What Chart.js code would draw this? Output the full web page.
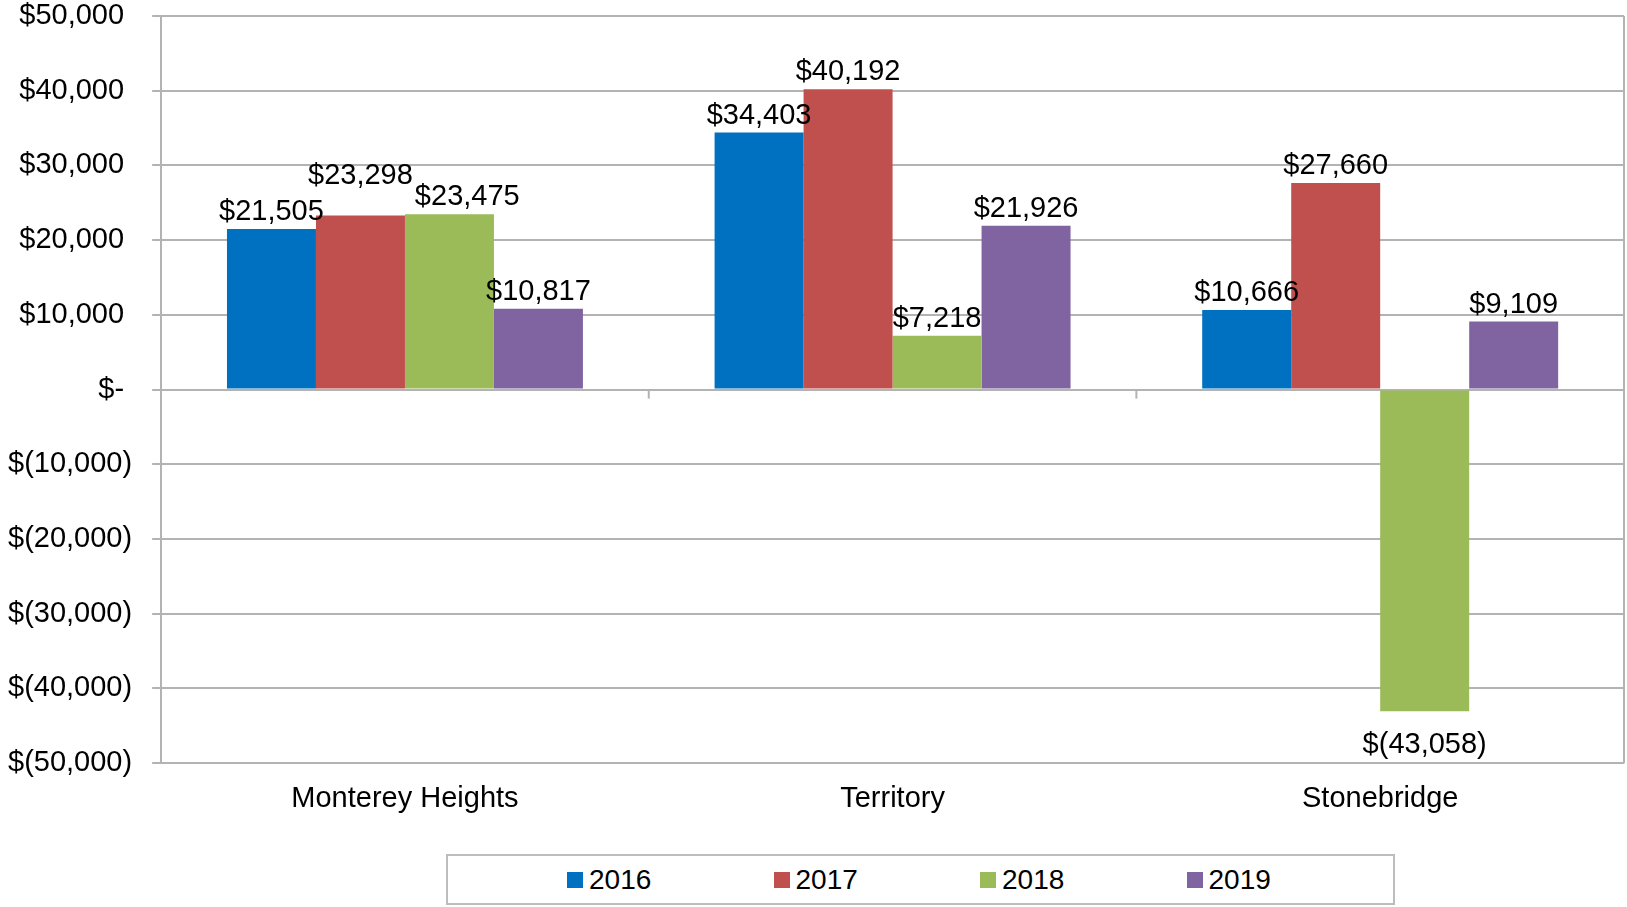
<!DOCTYPE html>
<html>
<head>
<meta charset="utf-8">
<script src="https://cdn.jsdelivr.net/npm/chart.js@4.4.1/dist/chart.umd.min.js"></script>
<style>
  body { margin: 0; background: #fff; font-family: "Liberation Sans", Arial, sans-serif; }
  #wrap { position: relative; width: 1627px; height: 907px; }
  #legend {
    position: absolute; left: 446px; top: 854px; width: 949px; height: 51px;
    box-sizing: border-box; border: 2px solid #BDBDBD; background: #fff;
    display: flex; align-items: center; padding-left: 119px;
  }
  .item { width: 209px; display: flex; align-items: center; font-size: 28px; color: #000; }
  .item span.box { width: 16px; height: 16px; margin-right: 6px; display: inline-block; }
</style>
</head>
<body>
<div id="wrap">
  <canvas id="chart1"></canvas>
  <div id="legend"></div>
</div>
<script>
const categories = ["Monterey Heights", "Territory", "Stonebridge"];
const years = ["2016", "2017", "2018", "2019"];
const values2016 = [21505, 34403, 10666];
const values2017 = [23298, 40192, 27660];
const values2018 = [23475, 7218, -43058];
const values2019 = [10817, 21926, 9109];
const colors = ["#0070C0", "#C0504D", "#9BBB59", "#8064A2"];

const seriesValues = [values2016, values2017, values2018, values2019];
const FONT = "'Liberation Sans', Arial, sans-serif";

function money(v, pad) {
  if (v === 0) return "$-" + pad;
  const s = Math.abs(v).toLocaleString("en-US");
  return v < 0 ? "$(" + s + ")" : "$" + s + pad;
}

// legend in html, boxes + year text
const legendEl = document.getElementById("legend");
years.forEach((y, i) => {
  const d = document.createElement("div");
  d.className = "item";
  d.innerHTML = '<span class="box" style="background:' + colors[i] + '"></span>' + y;
  legendEl.appendChild(d);
});

const extras = {
  id: "extras",
  beforeDatasetsDraw(chart) {
    const ctx = chart.ctx;
    const area = chart.chartArea;
    const x = chart.scales.x;
    const y = chart.scales.y;
    const y0 = y.getPixelForValue(0);
    ctx.save();
    ctx.strokeStyle = "#B3B3B3";
    ctx.lineWidth = 2;
    // right border of plot area
    ctx.beginPath();
    ctx.moveTo(area.right, area.top);
    ctx.lineTo(area.right, area.bottom);
    ctx.stroke();
    // category tick marks on the zero line
    for (let i = 1; i < categories.length; i++) {
      const px = (x.getPixelForValue(i - 1) + x.getPixelForValue(i)) / 2;
      ctx.beginPath();
      ctx.moveTo(px, y0);
      ctx.lineTo(px, y0 + 9);
      ctx.stroke();
    }
    ctx.restore();
  },
  afterDatasetsDraw(chart) {
    const ctx = chart.ctx;
    ctx.save();
    ctx.font = "29px " + FONT;
    ctx.fillStyle = "#000";
    ctx.textAlign = "center";
    ctx.textBaseline = "alphabetic";
    for (let c = 0; c < categories.length; c++) {
      const placed = [];
      chart.data.datasets.forEach((ds, di) => {
        const el = chart.getDatasetMeta(di).data[c];
        const v = ds.data[c];
        const txt = money(v, "");
        const w = ctx.measureText(txt).width;
        let cx = el.x;
        let base = v < 0 ? el.y + 42 : el.y - 9;
        // keep labels from sitting on top of each other
        if (v >= 0) {
          placed.forEach(p => {
            const hOver = Math.min(cx + w / 2, p.x + p.w / 2) - Math.max(cx - w / 2, p.x - p.w / 2);
            const vOver = Math.min(base, p.base) - Math.max(base - 20, p.base - 20);
            if (hOver > -2 && vOver > -2) {
              const up = base - (p.base - 36);
              const right = hOver + 2;
              if (up <= right * 1.5) base -= up; else cx += right;
            }
          });
          placed.push({ x: cx, w: w, base: base });
        }
        ctx.fillText(txt, cx, base);
      });
    }
    ctx.restore();
  }
};

new Chart("chart1", {
  type: "bar",
  data: {
    labels: categories,
    datasets: years.map((y, i) => ({
      label: y,
      data: seriesValues[i],
      backgroundColor: colors[i],
      borderWidth: 0,
      categoryPercentage: 0.73,
      barPercentage: 1.0,
    })),
  },
  options: {
    responsive: true,
    maintainAspectRatio: false,
    animation: false,
    layout: { padding: { left: -12, right: 3, top: 0, bottom: 81 } },
    plugins: {
      legend: { display: false },
      tooltip: { enabled: false },
    },
    scales: {
      x: {
        grid: { display: false },
        border: { display: false },
        ticks: {
          color: "#000",
          padding: 10,
          font: { family: FONT, size: 29 },
        },
      },
      y: {
        min: -50000,
        max: 50000,
        afterFit: (s) => { s.paddingTop = 16; },
        grid: { color: "#B3B3B3", lineWidth: 2, tickLength: 9 },
        border: { color: "#B3B3B3", width: 2 },
        ticks: {
          stepSize: 10000,
          color: "#000",
          padding: 20,
          font: { family: FONT, size: 29 },
          callback: (v) => money(v, " "),
        },
      },
    },
  },
  plugins: [extras],
});
</script>
</body>
</html>
